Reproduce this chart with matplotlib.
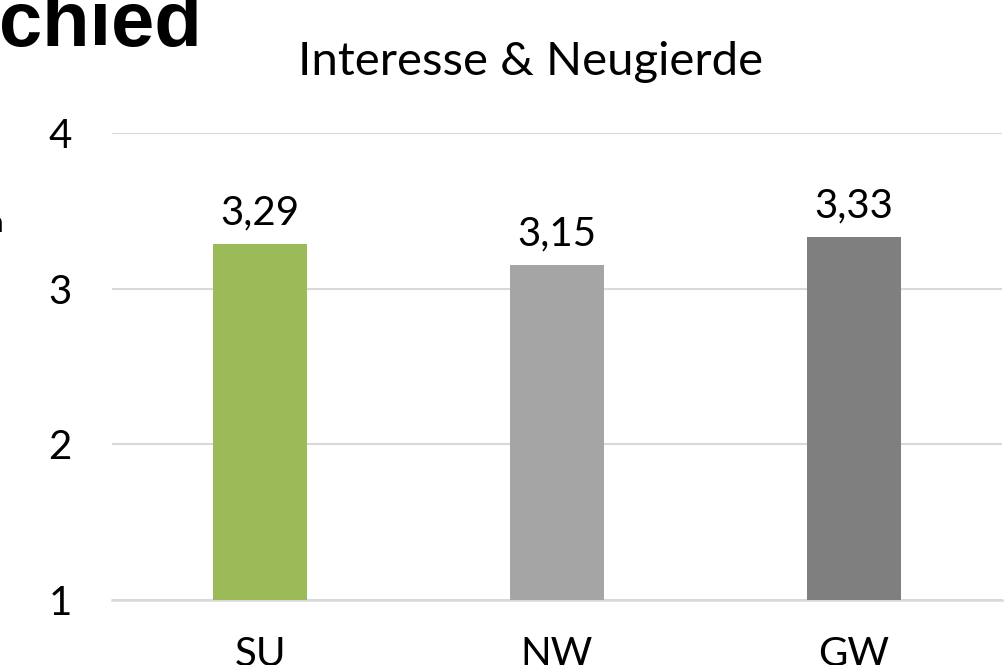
import matplotlib
matplotlib.use("Agg")
import matplotlib.pyplot as plt

# data
categories = ["SU", "NW", "GW"]
values = [3.29, 3.15, 3.33]
colors = ["#9BBB59", "#A5A5A5", "#7F7F7F"]
yticks = [1, 2, 3, 4]
title = "Interesse & Neugierde"

plt.rcParams['font.family'] = ['Lato', 'DejaVu Sans']

W, H = 1006, 665
fig = plt.figure(figsize=(W / 100, H / 100), dpi=100)
ax = fig.add_axes([112 / W, 65 / H, 890 / W, 467 / H])

x = range(len(categories))
bars = ax.bar(x, [v - 1 for v in values], bottom=1, width=0.316,
              color=colors, zorder=3)

for xi, v in zip(x, values):
    ax.annotate(f"{v:.2f}".replace(".", ","), (xi, v), xytext=(0, 9),
                textcoords="offset points", ha="center", va="bottom",
                fontsize=29, color="#000000")

ax.set_xlim(-0.5, 2.5)
ax.set_ylim(1, 4)
ax.set_yticks(yticks)
ax.set_xticks(list(x))
ax.set_xticklabels(categories)
ax.tick_params(axis="both", length=0, labelsize=29, colors="#000000")
ax.tick_params(axis="y", pad=29)
ax.tick_params(axis="x", pad=26)
ax.yaxis.grid(True, color="#D9D9D9", lw=1.5, zorder=0)
ax.xaxis.grid(False)
for s in ["top", "right", "left"]:
    ax.spines[s].set_visible(False)
ax.spines["bottom"].set_color("#D9D9D9")
ax.spines["bottom"].set_linewidth(1.8)

fig.text(531 / W, 1 - 62 / H, title, ha="center", va="center", fontsize=34)

# cut-off slide heading at top left
fig.text(202 / W, 1 - 46 / H, "chied", ha="right", va="baseline",
         fontsize=56, fontweight="bold", family="Liberation Sans")
fig.text(4 / W, 1 - 232 / H, "n", ha="right", va="baseline", fontsize=20)

fig.savefig("out.png", dpi=100)
